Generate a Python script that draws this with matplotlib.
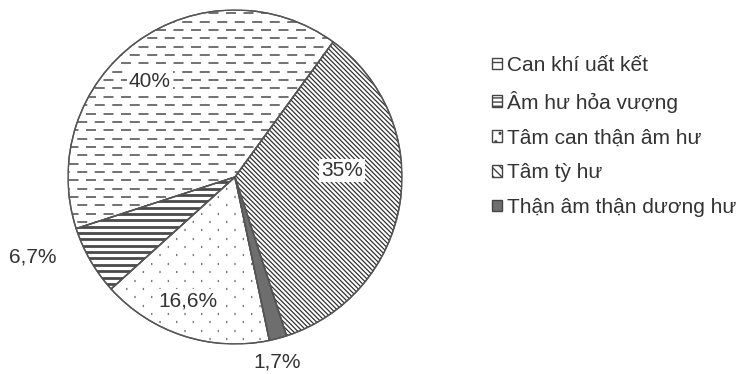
import numpy as np
import matplotlib
matplotlib.use('Agg')
import matplotlib.pyplot as plt
from matplotlib.patches import Patch, Wedge

# data, in legend order
labels = ['Can khí uất kết', 'Âm hư hỏa vượng', 'Tâm can thận âm hư',
          'Tâm tỳ hư', 'Thận âm thận dương hư']
values = [40, 6.7, 16.6, 35, 1.7]
pct_text = ['40%', '6,7%', '16,6%', '35%', '1,7%']

# order of the wedges going counter-clockwise from the start angle
draw_order = [0, 1, 2, 4, 3]

plt.rcParams['font.family'] = ['Liberation Sans', 'DejaVu Sans']
plt.rcParams['lines.scale_dashes'] = False
TXT = '#333333'
EDGE = '#555555'


def fill_lines(ax, wedge, kind):
    ''' hatch a wedge with clipped lines '''
    arts = []
    if kind == 'dash':
        for i, y in enumerate(np.arange(-1.02, 1.02, 0.05)):
            ln, = ax.plot([-1.1, 1.1], [y, y], color='#666666', lw=1.3,
                          linestyle=(6.3 * (i % 2), (7.2, 5.4)),
                          dash_capstyle='butt')
            arts.append(ln)
    elif kind == 'hbar':
        for y in np.arange(-1.02, 1.02, 0.038):
            ln, = ax.plot([-1.1, 1.1], [y, y], color='#4a4a4a', lw=2.0)
            arts.append(ln)
    elif kind == 'diag':
        for c in np.arange(-2.2, 2.2, 0.028):
            ln, = ax.plot([-1.2, 1.2], [1.2 + c, -1.2 + c], color='#333333', lw=0.9)
            arts.append(ln)
    elif kind == 'dots':
        for i, y in enumerate(np.arange(-1.02, 1.02, 0.05)):
            ln, = ax.plot([-1.1, 1.1], [y, y], color='#7a7a7a', lw=1.6,
                          linestyle=(6.0 * (i % 2), (1.0, 11.0)))
            arts.append(ln)
    for a in arts:
        a.set_clip_path(wedge)


fig = plt.figure(figsize=(7.38, 3.74), dpi=100)
ax = fig.add_axes([68 / 738, 30 / 374, 334 / 738, 334 / 374])

vals = [values[i] for i in draw_order]
face = {0: 'white', 1: 'white', 2: 'white', 3: 'white', 4: '#6e6e6e'}
wedges, _ = ax.pie(vals, startangle=54, counterclock=True,
                   colors=[face[i] for i in draw_order],
                   wedgeprops=dict(edgecolor=EDGE, linewidth=1.0))

kinds = {0: 'dash', 1: 'hbar', 2: 'dots', 3: 'diag'}
for w, idx in zip(wedges, draw_order):
    if idx in kinds:
        fill_lines(ax, w, kinds[idx])
# outline again on top of the hatching
for w in wedges:
    ax.add_patch(Wedge(w.center, w.r, w.theta1, w.theta2,
                       fill=False, edgecolor=EDGE, lw=1.0, zorder=3))

# percentage labels (placed as in the reference)
label_pos = {0: (-0.51, 0.57), 1: (-1.21, -0.48), 2: (-0.28, -0.74),
             3: (0.64, 0.04), 4: (0.25, -1.11)}
for i, t in enumerate(pct_text):
    x, y = label_pos[i]
    kw = {}
    if i in (0, 2, 3):
        kw['bbox'] = dict(facecolor='white', edgecolor='none', pad=1.5)
    ax.text(x, y, t, ha='center', va='center', fontsize=15, color=TXT,
            zorder=5, **kw)

ax.set_xlim(-1, 1)
ax.set_ylim(-1, 1)
ax.set_aspect('equal')
ax.axis('off')

# legend
plt.rcParams['hatch.color'] = '#444444'
hatch_for = ['--', '----', '..', '\\\\\\\\', '']
handles = []
for i in range(len(labels)):
    handles.append(Patch(facecolor=face[i], edgecolor='#444444', hatch=hatch_for[i],
                         linewidth=1.0))
leg = fig.legend(handles, labels, loc='upper left', bbox_to_anchor=(473 / 738, 1 - 37 / 374),
                 frameon=False, fontsize=15, handlelength=0.5, handleheight=0.48,
                 handletextpad=0.25, labelspacing=0.76, labelcolor=TXT)

fig.savefig('out.png', dpi=100)
